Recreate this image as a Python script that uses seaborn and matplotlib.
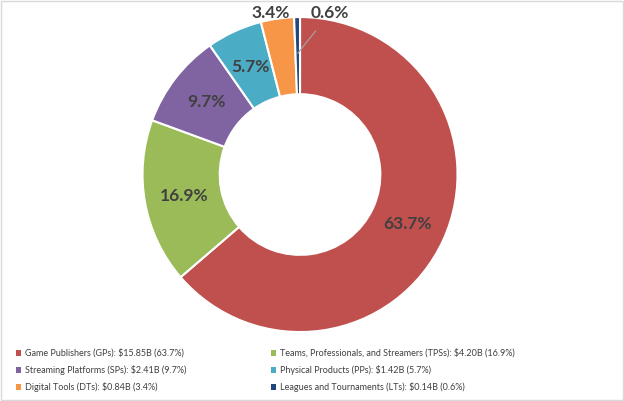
import seaborn as sns
import matplotlib.pyplot as plt
from matplotlib.patches import Rectangle, Patch
import numpy as np

# segment data
names = ["Game Publishers (GPs)", "Teams, Professionals, and Streamers (TPSs)",
         "Streaming Platforms (SPs)", "Physical Products (PPs)",
         "Digital Tools (DTs)", "Leagues and Tournaments (LTs)"]
revenue = [15.85, 4.20, 2.41, 1.42, 0.84, 0.14]
shares = [63.7, 16.9, 9.7, 5.7, 3.4, 0.6]
colors = ["#C0504D", "#9BBB59", "#8064A2", "#4BACC6", "#F79646", "#1F497D"]

sns.set_theme(style="white")
plt.rcParams['font.family'] = ['Lato', 'DejaVu Sans']

fig = plt.figure(figsize=(6.24, 4.01), dpi=100)
ax = fig.add_axes([0.2284, 0.172, 0.5048, 0.7855])

palette = sns.color_palette(colors)
wedges, _ = ax.pie(shares, colors=palette, startangle=90, counterclock=False,
                   wedgeprops=dict(width=0.49, edgecolor="white", linewidth=1.5))
ax.set_xlim(-1, 1)
ax.set_ylim(-1, 1)
ax.set_aspect("equal")

txt_color = "#404040"
for i, (w, s) in enumerate(zip(wedges, shares)):
    mid = np.deg2rad((w.theta1 + w.theta2) / 2)
    lbl = f"{s:.1f}%"
    if s >= 5:
        ax.text(0.75 * np.cos(mid), 0.75 * np.sin(mid), lbl, ha="center", va="center",
                fontsize=12.5, fontweight="bold", color=txt_color)
    elif i == 4:
        ax.text(-0.184, 1.025, lbl, ha="center", va="center",
                fontsize=12.5, fontweight="bold", color=txt_color, clip_on=False)
    else:
        x0, y0 = 0.77 * np.cos(mid), 0.77 * np.sin(mid)
        ax.annotate(lbl, xy=(x0, y0), xytext=(0.19, 1.025), ha="center", va="center",
                    fontsize=12.5, fontweight="bold", color=txt_color,
                    arrowprops=dict(arrowstyle="-", color="#A6A6A6", lw=0.8,
                                    shrinkA=6, shrinkB=0), annotation_clip=False)

handles = [Patch(facecolor=c, edgecolor="none") for c in colors]
labels = [f"{n}: ${r:.2f}B ({s:.1f}%)" for n, r, s in zip(names, revenue, shares)]

leg_kw = dict(frameon=False, fontsize=6.5, handlelength=0.6, handleheight=0.6,
              handletextpad=0.4, labelspacing=0.8, loc="upper left",
              labelcolor=txt_color, borderaxespad=0)
fig.legend(handles[0::2], labels[0::2], bbox_to_anchor=(12 / 624, 1 - 345 / 401), **leg_kw)
fig.legend(handles[1::2], labels[1::2], bbox_to_anchor=(267 / 624, 1 - 345 / 401), **leg_kw)

fig.patches.append(Rectangle((0.002, 0.002), 0.996, 0.996, transform=fig.transFigure,
                             fill=False, edgecolor="#D9D9D9", linewidth=1))

fig.savefig("out.png", dpi=100)
